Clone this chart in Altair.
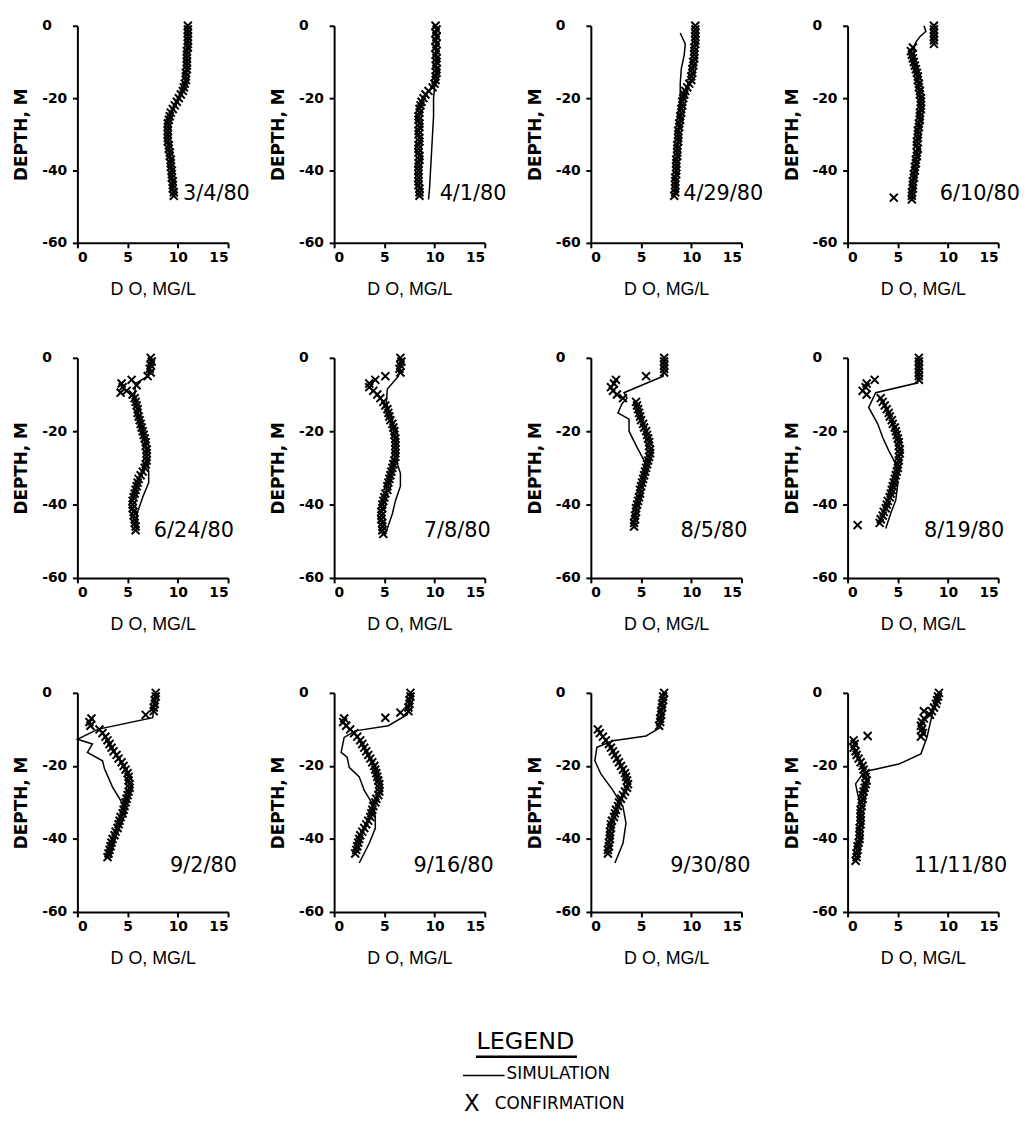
import altair as alt
import pandas as pd

DATES = ["3/4/80", "4/1/80", "4/29/80", "6/10/80",
         "6/24/80", "7/8/80", "8/5/80", "8/19/80",
         "9/2/80", "9/16/80", "9/30/80", "11/11/80"]

# sampling depths (m) of the confirmation profiles
GRID_DEPTH = list(range(0, -48, -1))

CONF_1 = [11.0, 11.0, 11.0, 11.0, 11.0, 11.0, 11.0, 10.9, 10.9, 10.9,
          10.9, 10.9, 10.9, 10.8, 10.8, 10.8, 10.7, 10.6, 10.5, 10.3,
          10.1, 9.9, 9.7, 9.5, 9.3, 9.2, 9.1, 9.0, 9.0, 9.0,
          9.0, 9.0, 9.0, 9.1, 9.1, 9.2, 9.2, 9.3, 9.3, 9.3,
          9.4, 9.4, 9.4, 9.5, 9.5, 9.5, 9.6, 9.6]
CONF_2 = [10.1, 10.2, 10.1, 10.2, 10.1, 10.2, 10.1, 10.2, 10.1, 10.2,
          10.2, 10.1, 10.2, 10.2, 10.1, 10.1, 10.0, 9.8, 9.4, 9.1,
          8.9, 8.7, 8.6, 8.5, 8.5, 8.4, 8.4, 8.5, 8.5, 8.4,
          8.4, 8.5, 8.5, 8.4, 8.4, 8.4, 8.5, 8.5, 8.4, 8.4,
          8.4, 8.4, 8.4, 8.4, 8.4, 8.5, 8.5, 8.5]
CONF_3 = [10.4, 10.4, 10.4, 10.4, 10.4, 10.4, 10.3, 10.3, 10.3, 10.3,
          10.2, 10.2, 10.1, 10.1, 10.0, 10.0, 9.8, 9.6, 9.4, 9.3,
          9.2, 9.1, 9.1, 9.0, 9.0, 8.9, 8.9, 8.8, 8.8, 8.7,
          8.7, 8.7, 8.7, 8.6, 8.6, 8.6, 8.6, 8.5, 8.5, 8.5,
          8.5, 8.5, 8.4, 8.4, 8.4, 8.4, 8.4, 8.3]
CONF_4 = [8.6, 8.6, 8.6, 8.6, 8.6, 8.6, 6.5, 6.3, 6.4, 6.5,
          6.6, 6.7, 6.8, 6.9, 7.0, 7.0, 7.1, 7.1, 7.2, 7.2,
          7.3, 7.3, 7.3, 7.3, 7.2, 7.2, 7.2, 7.1, 7.1, 7.0,
          7.0, 7.0, 6.9, 6.9, 7.0, 6.9, 6.9, 6.8, 6.8, 6.7,
          6.7, 6.6, 6.6, 6.5, 6.5, 6.5, 6.4, 6.4]
CONF_5 = [7.3, 7.4, 7.3, 7.2, 7.3, 7.0, 5.4, 4.4, 4.5, 4.9,
          5.5, 5.7, 5.8, 5.9, 6.0, 6.0, 6.1, 6.2, 6.3, 6.4,
          6.5, 6.6, 6.7, 6.8, 6.8, 6.9, 6.9, 6.9, 6.9, 6.8,
          6.7, 6.5, 6.3, 6.1, 6.0, 5.9, 5.8, 5.7, 5.6, 5.5,
          5.5, 5.5, 5.6, 5.6, 5.7, 5.7, 5.8, 5.8]
CONF_6 = [6.6, 6.7, 6.6, 6.5, 6.6, 5.1, 4.1, 3.5, 3.5, 3.9,
          4.3, 4.6, 4.9, 5.1, 5.3, 5.4, 5.5, 5.6, 5.8, 5.9,
          6.0, 6.0, 6.1, 6.1, 6.1, 6.1, 6.1, 6.1, 6.0, 5.9,
          5.8, 5.7, 5.6, 5.5, 5.4, 5.3, 5.3, 5.1, 5.0, 4.9,
          4.8, 4.8, 4.7, 4.7, 4.7, 4.8, 4.8, 4.8]
CONF_7 = [7.3, 7.3, 7.3, 7.3, 7.3, 5.5, 2.5, 2.3, 2.0, 2.2,
          2.6, 3.2, 4.5, 4.6, 4.7, 4.8, 4.9, 5.0, 5.2, 5.3,
          5.5, 5.6, 5.7, 5.8, 5.8, 5.9, 5.9, 5.8, 5.7, 5.6,
          5.5, 5.4, 5.3, 5.2, 5.1, 5.0, 4.9, 4.9, 4.8, 4.7,
          4.6, 4.5, 4.5, 4.4, 4.4, 4.3, 4.3, None]
CONF_8 = [7.1, 7.1, 7.1, 7.1, 7.1, 7.1, 7.1, 1.9, 1.8, 1.5,
          1.9, 3.3, 3.5, 3.7, 3.9, 4.1, 4.2, 4.4, 4.5, 4.7,
          4.8, 4.9, 5.0, 5.1, 5.1, 5.2, 5.2, 5.1, 5.1, 5.0,
          5.0, 4.9, 4.8, 4.7, 4.6, 4.5, 4.4, 4.3, 4.2, 4.0,
          3.9, 3.8, 3.6, 3.5, 3.3, 3.2, None, None]
CONF_9 = [7.8, 7.8, 7.7, 7.7, 7.6, 7.6, 6.8, 1.4, 1.2, 1.3,
          2.2, 2.5, 2.8, 3.0, 3.2, 3.4, 3.6, 3.9, 4.1, 4.4,
          4.6, 4.8, 5.0, 5.1, 5.1, 5.2, 5.2, 5.1, 5.0, 4.9,
          4.8, 4.7, 4.6, 4.5, 4.3, 4.2, 4.1, 4.0, 3.8, 3.7,
          3.5, 3.4, 3.3, 3.2, 3.1, 3.0, None, None]
CONF_10 = [7.6, 7.6, 7.5, 7.5, 7.4, 7.4, None, 1.0, 0.9, 1.2,
           1.6, 2.0, 2.3, 2.6, 2.8, 3.0, 3.2, 3.4, 3.6, 3.8,
           4.0, 4.1, 4.2, 4.3, 4.4, 4.5, 4.5, 4.5, 4.4, 4.2,
           4.1, 3.9, 3.8, 3.7, 3.6, 3.4, 3.2, 3.0, 2.8, 2.6,
           2.5, 2.4, 2.3, 2.2, 2.1, None, None, None]
CONF_11 = [7.3, 7.2, 7.2, 7.1, 7.1, 7.0, 7.0, 6.9, 6.9, 6.8,
           0.7, 0.9, 1.2, 1.5, 1.8, 2.0, 2.2, 2.4, 2.6, 2.8,
           3.0, 3.2, 3.4, 3.5, 3.6, 3.7, 3.6, 3.4, 3.2, 3.0,
           2.8, 2.7, 2.5, 2.4, 2.3, 2.1, 2.0, 2.0, 1.9, 1.9,
           1.9, 1.8, 1.8, 1.7, 1.7, None, None, None]
CONF_12 = [9.1, 9.0, 8.9, 8.8, 8.6, 8.4, 8.2, 7.6, 7.4, 7.3,
           7.4, 7.5, 7.3, 0.6, 0.7, 0.6, 0.8, 0.9, 1.1, 1.3,
           1.5, 1.6, 1.8, 1.8, 1.9, 1.8, 1.7, 1.6, 1.5, 1.5,
           1.4, 1.4, 1.3, 1.3, 1.3, 1.3, 1.3, 1.2, 1.2, 1.2,
           1.2, 1.1, 1.0, 1.0, 0.9, 0.9, 0.8, None]
CONF = [CONF_1, CONF_2, CONF_3, CONF_4, CONF_5, CONF_6,
        CONF_7, CONF_8, CONF_9, CONF_10, CONF_11, CONF_12]

# isolated confirmation readings off the grid
EXTRA_DEPTH = [[], [], [], [-48, -47.5], [-7.5, -9.5], [-48], [], [-6, -45.6],
               [], [-5.4, -6.8], [], [-11.8, -5]]
EXTRA_DO = [[], [], [], [6.4, 4.6], [5.9, 4.3], [4.9], [], [2.7, 1.0],
            [], [6.6, 5.1], [], [2.0, 7.6]]

SIM_DEPTH = [
    [0, -10, -15, -20, -25, -30, -35, -40, -45, -47],
    [0, -5, -10, -15, -17, -20, -25, -30, -35, -40, -45, -48],
    [-2, -5, -8, -12, -16, -19, -25, -30, -35, -40, -45, -47],
    [0, -1.5, -3, -4.5, -6, -10, -15, -20, -25, -30, -35, -40, -45, -48],
    [0, -5, -7, -10, -15, -20, -25, -29, -31, -34, -38, -42, -46],
    [0, -5, -8.5, -12, -16, -20, -25, -29, -31.5, -35, -39, -42.5, -48],
    [0, -5, -9.5, -11, -12.5, -15, -16.7, -20, -24.4, -29, -33, -38, -42, -46.5],
    [0, -6.8, -9.5, -13.5, -18, -21.7, -25.3, -28.9, -34.3, -38.8, -42.4, -46.5],
    [0, -6.8, -10, -12.7, -14, -16.3, -18.6, -20.8, -25.8, -30.3, -33, -39.4, -45.7],
    [0, -5.9, -9, -10.4, -12.2, -16.3, -17.6, -20.4, -23, -26.7, -30.3, -33.9, -37.1, -41.2, -46.6],
    [0, -9.5, -11.8, -13.1, -14.9, -18.6, -22.2, -26.7, -31.2, -35.7, -41.2, -46.6],
    [0, -5, -12.2, -16.7, -19.5, -21.3, -22.2, -24.9, -27.6, -31.2, -39.4, -45.7],
]
SIM_DO = [
    [11.0, 10.9, 10.8, 10.1, 9.2, 9.0, 9.2, 9.4, 9.5, 9.6],
    [10.2, 10.2, 10.2, 10.2, 10.0, 9.9, 9.9, 9.8, 9.7, 9.6, 9.5, 9.4],
    [8.9, 9.4, 9.3, 9.0, 8.9, 8.9, 8.9, 8.7, 8.6, 8.5, 8.4, 8.3],
    [7.6, 7.8, 7.2, 6.8, 6.6, 6.6, 7.0, 7.2, 7.2, 7.0, 6.9, 6.7, 6.5, 6.4],
    [7.3, 7.0, 5.8, 5.7, 6.0, 6.5, 6.9, 7.0, 7.1, 7.1, 6.5, 6.0, 5.8],
    [6.6, 6.4, 5.3, 5.2, 5.6, 6.1, 6.2, 6.3, 6.6, 6.6, 6.1, 5.8, 5.1],
    [7.3, 7.2, 3.3, 3.6, 3.1, 2.7, 3.8, 3.8, 4.6, 5.5, 5.3, 4.8, 4.5, 4.3],
    [7.1, 7.0, 2.8, 2.1, 3.0, 3.5, 4.1, 4.8, 5.0, 4.8, 4.3, 3.8],
    [7.8, 7.5, 2.0, 0.0, 1.5, 1.0, 2.5, 2.7, 3.5, 4.5, 4.8, 3.8, 3.2],
    [7.6, 7.3, 5.4, 2.1, 1.0, 0.7, 1.3, 1.5, 2.5, 3.0, 3.8, 4.1, 4.1, 3.5, 2.5],
    [7.2, 6.9, 5.5, 2.2, 0.6, 0.4, 1.0, 2.2, 3.2, 3.5, 3.2, 2.4],
    [9.1, 8.5, 7.9, 7.3, 5.1, 2.1, 1.5, 0.8, 1.0, 1.3, 1.2, 1.0],
]

X_TICKS = [0, 5, 10, 15]
Y_TICKS = [0, -20, -40, -60]

# ---------------- styling ----------------
FONT = "DejaVu Sans"
XSHAPE = "M -1 -1 L 1 1 M -1 1 L 1 -1"
ROW_H = [219, 222, 221]
LABEL_X = [174, 158, 161]
LABEL_Y = [170, 175, 175]

one = pd.DataFrame({"a": [0]})


def panel(i):
    r = i // 4
    conf = pd.DataFrame({"depth": GRID_DEPTH + EXTRA_DEPTH[i],
                         "do": CONF[i] + EXTRA_DO[i]}).dropna()
    sim = pd.DataFrame({"depth": SIM_DEPTH[i], "do": SIM_DO[i],
                        "k": list(range(len(SIM_DEPTH[i])))})
    xenc = alt.X("do:Q",
                 scale=alt.Scale(domain=[0, 15], nice=False, zero=False),
                 axis=alt.Axis(values=X_TICKS, title="D O, MG/L",
                               titleFont="Liberation Sans", titleFontSize=18,
                               titleFontWeight="normal", titlePadding=16,
                               labelPadding=3))
    yenc = alt.Y("depth:Q",
                 scale=alt.Scale(domain=[-60, 0], nice=False, zero=False),
                 axis=alt.Axis(values=Y_TICKS, title="DEPTH, M",
                               titleFont=FONT, titleFontSize=17,
                               titleFontWeight="bold", titlePadding=11,
                               labelAlign="left", labelPadding=31,
                               labelExpr="datum.value < 0 ? '-' + abs(datum.value) : '' + datum.value"))
    line = alt.Chart(sim).mark_line(color="black", strokeWidth=1.5).encode(
        x=xenc, y=yenc, order="k:Q")
    pts = alt.Chart(conf).mark_point(shape=XSHAPE, filled=False, size=64,
                                     strokeWidth=2, color="black",
                                     opacity=1).encode(x=xenc, y=yenc)
    lab = alt.Chart(one).mark_text(align="right", baseline="middle",
                                   fontSize=21, font=FONT,
                                   color="black").encode(
        x=alt.value(LABEL_X[r]), y=alt.value(LABEL_Y[r]),
        text=alt.value(DATES[i]))
    layers = [line, pts, lab]
    if i == 9:
        layers += [
            alt.Chart(one).mark_text(align="center", baseline="middle",
                                     fontSize=24, font=FONT, color="black").encode(
                x=alt.value(193), y=alt.value(352), text=alt.value("LEGEND")),
            alt.Chart(one).mark_rule(color="black", strokeWidth=2.5).encode(
                x=alt.value(143), x2=alt.value(245), y=alt.value(367)),
            alt.Chart(one).mark_rule(color="black", strokeWidth=1.5).encode(
                x=alt.value(130), x2=alt.value(172), y=alt.value(386)),
            alt.Chart(one).mark_text(align="left", baseline="middle",
                                     fontSize=17, font=FONT, color="black").encode(
                x=alt.value(174), y=alt.value(385), text=alt.value("SIMULATION")),
            alt.Chart(one).mark_text(align="center", baseline="middle",
                                     fontSize=23, font=FONT, color="black").encode(
                x=alt.value(139), y=alt.value(415), text=alt.value("X")),
            alt.Chart(one).mark_text(align="left", baseline="middle",
                                     fontSize=17, font=FONT, color="black").encode(
                x=alt.value(162), y=alt.value(415), text=alt.value("CONFIRMATION")),
        ]
    return alt.layer(*layers).properties(width=152, height=ROW_H[r])


chart = alt.concat(*[panel(i) for i in range(12)], columns=4,
                   spacing={"row": 116, "column": 107}, bounds="flush")
chart = chart.configure_view(stroke=None).configure_axis(
    grid=False, domainColor="black", domainWidth=2, tickColor="black",
    tickWidth=2, tickSize=5, labelColor="black", titleColor="black",
    labelFont=FONT, labelFontWeight="bold", labelFontSize=14
)

chart.save("out.html", embed_options={"renderer": "svg", "actions": False})
